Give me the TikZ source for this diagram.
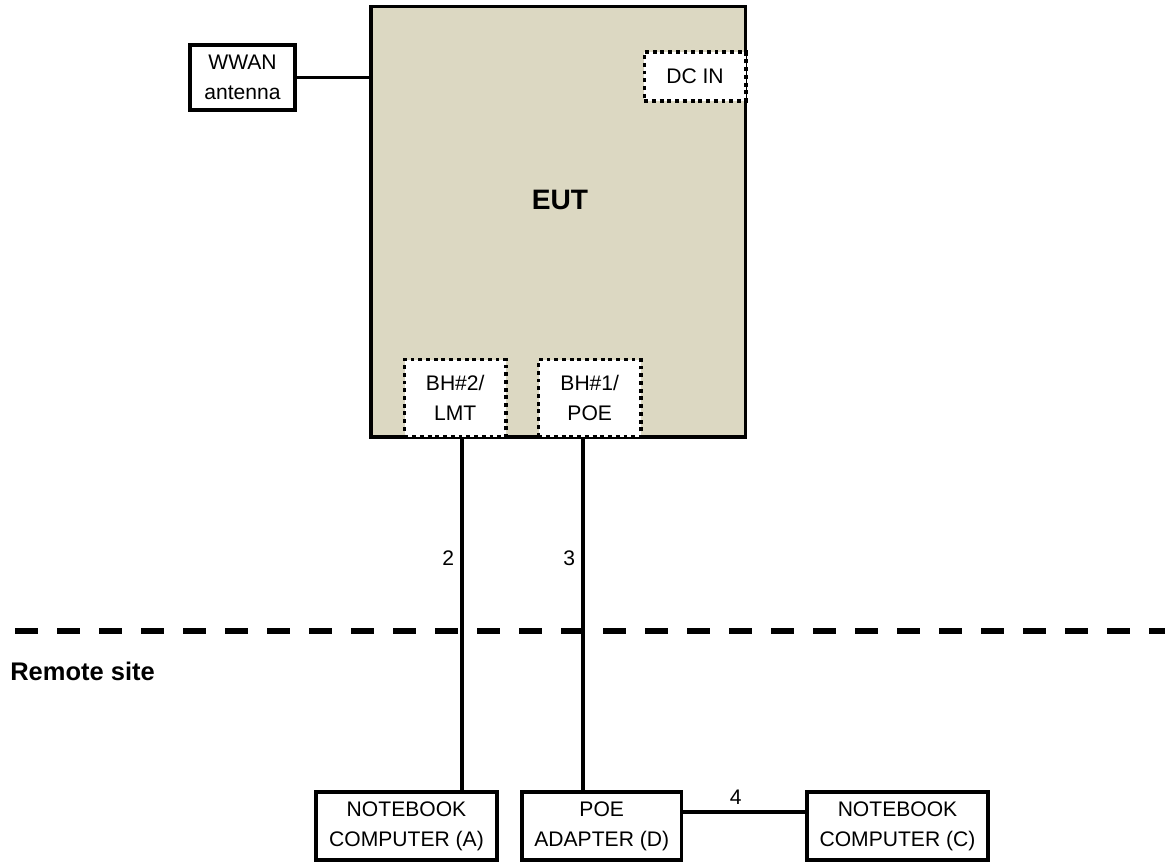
\documentclass[tikz,border=0pt]{standalone}
\usepackage{fontspec}
\setmainfont{Liberation Sans}
\usepackage{tikz}
\definecolor{EutBeige}{RGB}{220,216,194}

\begin{document}
\begin{tikzpicture}[
    every node/.style={font=\fontsize{12}{17}\selectfont},
    unitbox/.style={draw,line width=2.2pt,fill=white,align=center,inner sep=0pt},
    portbox/.style={draw,line width=2pt,dash pattern=on 2.2pt off 2.2pt,fill=white,align=center,inner sep=0pt},
    cable/.style={line width=2.2pt}
]
    \useasboundingbox (0,0) rectangle (23.3,-17.26);
    % equipment under test
    \node[unitbox,fill=EutBeige,minimum width=7.49cm,minimum height=8.61cm] (eut) at (11.165,-4.435) {};
    \node[font=\fontsize{16}{19}\selectfont\bfseries] (euttxt) at (11.2,-4.0) {EUT};
    \node[unitbox,minimum width=2.1cm,minimum height=1.3cm] (wwan) at (4.85,-1.55) {WWAN\\antenna};
    \draw[cable] (wwan.east) -- (wwan.east -| eut.west);
    % ports
    \node[portbox,minimum width=2.03cm,minimum height=0.98cm] (dcin) at (13.9,-1.53) {DC IN};
    \node[portbox,minimum width=2.03cm,minimum height=1.55cm] (bhtwo) at (9.105,-7.965) {BH\#2/\\LMT};
    \node[portbox,minimum width=2.05cm,minimum height=1.55cm] (bhone) at (11.795,-7.965) {BH\#1/\\POE};
    % remote site
    \coordinate (sepL) at (0.3,-12.62);
    \coordinate (sepR) at (23.3,-12.62);
    \draw[line width=3.4pt,dash pattern=on 13.1pt off 10.8pt] (sepL) -- (sepR);
    \node[font=\fontsize{14.5}{17}\selectfont\bfseries,anchor=west,inner sep=0pt] (remote) at (0.2,-13.42) {Remote site};
    \foreach \name/\x/\w/\txt in {nbA/8.13/3.62/{NOTEBOOK\\COMPUTER (A)}, poe/12.035/3.19/{POE\\ADAPTER (D)}, nbC/17.95/3.62/{NOTEBOOK\\COMPUTER (C)}} {
        \node[unitbox,minimum width=\w cm,minimum height=1.37cm] (\name) at (\x,-16.52) {\txt};
    }
    % cables
    \draw[cable] ([xshift=0.135cm]bhtwo.south) -- ([xshift=0.135cm]bhtwo.south |- nbA.north) node[left,pos=0.34] {2};
    \draw[cable] ([xshift=-0.135cm]bhone.south) -- ([xshift=-0.135cm]bhone.south |- poe.north) node[left,pos=0.34] {3};
    \draw[cable] ([yshift=0.28cm]poe.east) -- ([yshift=0.28cm]poe.east -| nbC.west) node[above,pos=0.43] {4};
\end{tikzpicture}
\end{document}
